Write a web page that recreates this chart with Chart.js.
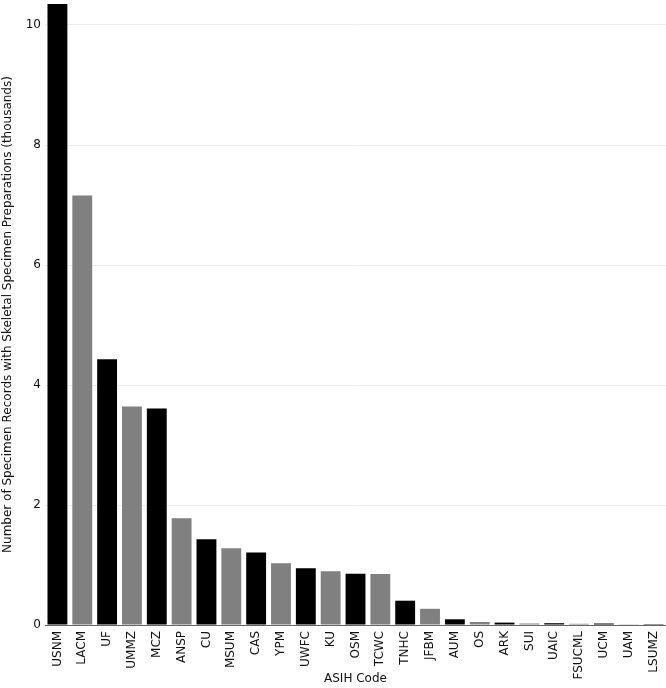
<!DOCTYPE html>
<html>
<head>
<meta charset="utf-8">
<script src="https://cdn.jsdelivr.net/npm/chart.js@4/dist/chart.umd.min.js"></script>
<style>
  html, body { margin: 0; padding: 0; background: #ffffff; overflow: hidden; }
  #wrap { width: 666px; height: 688px; position: relative; }
</style>
</head>
<body>
<div id="wrap"><canvas id="c"></canvas></div>
<script>
const categories = ["USNM","LACM","UF","UMMZ","MCZ","ANSP","CU","MSUM","CAS","YPM","UWFC","KU","OSM","TCWC","TNHC","JFBM","AUM","OS","ARK","SUI","UAIC","FSUCML","UCM","UAM","LSUMZ"];
const records = [10.35,7.16,4.43,3.64,3.61,1.78,1.43,1.28,1.21,1.03,0.945,0.895,0.855,0.85,0.405,0.27,0.095,0.05,0.04,0.025,0.03,0.02,0.025,0.012,0.015];
const yTicks = [0,2,4,6,8,10];
const xTitle = "ASIH Code";
const yTitle = "Number of Specimen Records with Skeletal Specimen Preparations (thousands)";

const font = "'DejaVu Sans', Verdana, sans-serif";
const colors = categories.map((_, i) => i % 2 === 0 ? "#000000" : "#808080");

new Chart(document.getElementById("c"), {
  type: "bar",
  data: {
    labels: categories,
    datasets: [{
      data: records,
      backgroundColor: colors,
      borderColor: colors,
      borderWidth: 0,
      barPercentage: 0.8,
      categoryPercentage: 1.0
    }]
  },
  options: {
    responsive: true,
    maintainAspectRatio: false,
    animation: false,
    layout: { padding: { top: 4, right: 0, left: 0, bottom: 0 } },
    plugins: { legend: { display: false }, tooltip: { enabled: false } },
    scales: {
      x: {
        grid: { display: false, drawTicks: false },
        border: { display: true, color: "#666666", width: 1 },
        ticks: {
          autoSkip: false, maxRotation: 90, minRotation: 90, padding: 6,
          color: "#111111", font: { family: font, size: 12 }
        },
        title: {
          display: true, text: xTitle, color: "#111111",
          font: { family: font, size: 12 }, padding: { top: 0, bottom: 2 }
        },
        afterFit: (s) => { s.height = 63; s.paddingLeft = 0; s.paddingRight = 0; }
      },
      y: {
        min: 0, max: 10.35,
        grid: { color: "#ececec", drawTicks: false },
        border: { display: false },
        afterBuildTicks: (s) => { s.ticks = yTicks.map(v => ({ value: v })); },
        ticks: {
          includeBounds: false, stepSize: 2, padding: 4,
          color: "#111111", font: { family: font, size: 12 }
        },
        title: {
          display: true, text: yTitle, color: "#111111",
          font: { family: font, size: 12 }, padding: { top: 1, bottom: 0 }
        },
        afterFit: (s) => { s.width = 45; s.paddingTop = 0; s.paddingBottom = 0; }
      }
    }
  }
});
</script>
</body>
</html>
